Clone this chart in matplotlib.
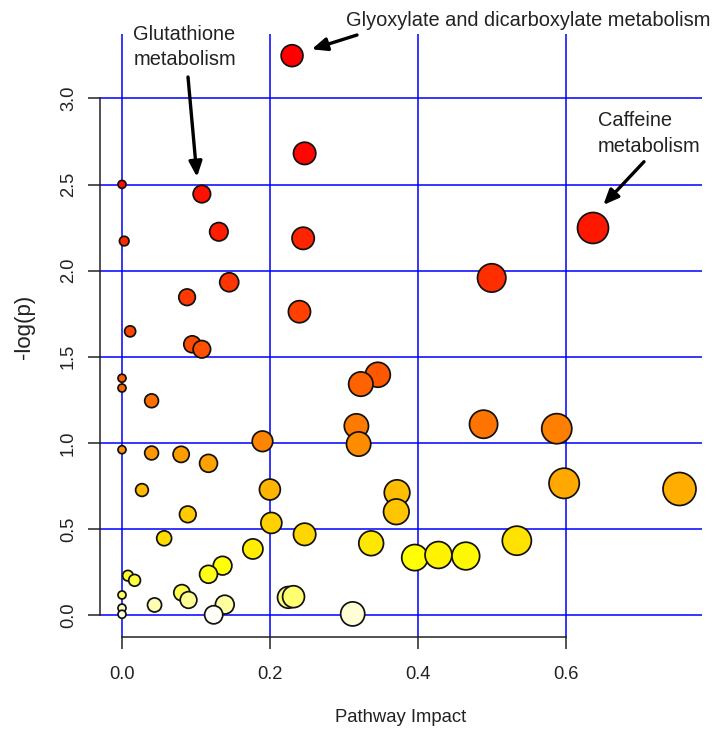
import numpy as np
import matplotlib
matplotlib.use("Agg")
import matplotlib.pyplot as plt
import colorsys

plt.rcParams['font.family'] = ['Liberation Sans', 'DejaVu Sans']

# ---- data ----
impact = [0.230, 0.247, 0.000, 0.108, 0.003, 0.131, 0.245, 0.637, 0.500, 0.088,
          0.145, 0.240, 0.011, 0.095, 0.108, 0.000, 0.000, 0.040, 0.346, 0.323,
          0.317, 0.320, 0.489, 0.588, 0.190, 0.000, 0.040, 0.080, 0.117, 0.027,
          0.200, 0.089, 0.202, 0.247, 0.057, 0.177, 0.136, 0.117, 0.008, 0.017,
          0.000, 0.081, 0.090, 0.044, 0.139, 0.000, 0.000, 0.124, 0.225, 0.232,
          0.312, 0.337, 0.372, 0.371, 0.396, 0.428, 0.465, 0.534, 0.598, 0.754]
neglogp = [3.248, 2.681, 2.501, 2.445, 2.172, 2.226, 2.188, 2.248, 1.958, 1.846,
           1.933, 1.762, 1.648, 1.573, 1.544, 1.376, 1.319, 1.245, 1.396, 1.342,
           1.099, 0.994, 1.109, 1.083, 1.010, 0.961, 0.942, 0.934, 0.882, 0.727,
           0.730, 0.586, 0.536, 0.470, 0.447, 0.385, 0.288, 0.238, 0.230, 0.203,
           0.118, 0.131, 0.089, 0.060, 0.062, 0.042, 0.006, 0.003, 0.104, 0.108,
           0.008, 0.418, 0.712, 0.601, 0.335, 0.350, 0.344, 0.433, 0.766, 0.733]

x_ticks = [0.0, 0.2, 0.4, 0.6]
y_ticks = [0.0, 0.5, 1.0, 1.5, 2.0, 2.5, 3.0]
x_label = "Pathway Impact"
y_label = "-log(p)"
label_glutathione = ["Glutathione", "metabolism"]
label_glyoxylate = "Glyoxylate and dicarboxylate metabolism"
label_caffeine = ["Caffeine", "metabolism"]


def heat_colors(n):
    """R's heat.colors(n)"""
    j = n // 4
    i = n - j
    cols = []
    for h in np.linspace(0, 1 / 6, i):
        cols.append(colorsys.hsv_to_rgb(h, 1, 1))
    if j > 0:
        for s in np.linspace(1 - 1 / (2 * j), 1 / (2 * j), j):
            cols.append(colorsys.hsv_to_rgb(1 / 6, s, 1))
    return cols


x = np.array(impact)
y = np.array(neglogp)
n = len(x)
order = np.argsort(-y)
hc = heat_colors(n)
colors = [None] * n
for rank, idx in enumerate(order):
    colors[idx] = hc[rank]

# radius in pixels grows with impact
r_px = 4 + 12.5 * np.sqrt(x / x.max())
sizes = (2 * r_px * 0.72) ** 2

W, H = 719, 731
fig = plt.figure(figsize=(W / 100, H / 100), dpi=100)
ax = fig.add_axes([100 / W, 1 - 637 / H, 602 / W, 603 / H])

px2x = lambda p: (p - 122) / 739.4
px2y = lambda p: (615.3 - p) / 172.3
ax.set_xlim(px2x(100), px2x(702))
ax.set_ylim(px2y(637), px2y(34))

for xv in x_ticks:
    ax.axvline(xv, color='#0000ff', lw=1.1, zorder=1)
for yv in y_ticks:
    ax.axhline(yv, color='#0000ff', lw=1.1, zorder=1)

ax.scatter(x, y, s=sizes, c=colors, edgecolors='#111111', linewidths=1.25,
           zorder=3, clip_on=False)

for side in ['top', 'right']:
    ax.spines[side].set_visible(False)
ax.spines['left'].set_bounds(min(y_ticks), max(y_ticks))
ax.spines['bottom'].set_bounds(min(x_ticks), max(x_ticks))
for side in ['left', 'bottom']:
    ax.spines[side].set_color('#222222')
    ax.spines[side].set_linewidth(1.1)

ax.set_xticks(x_ticks)
ax.set_xticklabels([f"{v:.1f}" for v in x_ticks])
ax.set_yticks(y_ticks)
ax.set_yticklabels([f"{v:.1f}" for v in y_ticks], rotation=90, va='center')
ax.tick_params(direction='out', length=8.6, width=1.1, color='#222222',
               labelsize=13.2, labelcolor='#222222')
ax.tick_params(axis='x', pad=12)
ax.tick_params(axis='y', pad=8)

fig.text(401 / W, 1 - 718 / H, x_label, ha='center', va='center', fontsize=13.3,
         color='#222222')
fig.text(25 / W, 1 - 327 / H, y_label, ha='center', va='center', rotation=90,
         fontsize=16, color='#222222')

# annotations
tfs = 14.4
ax.text(px2x(133.3), px2y(40), label_glutathione[0], fontsize=tfs, va='baseline',
        ha='left', clip_on=False, color='#222222')
ax.text(px2x(133.3), px2y(65), label_glutathione[1], fontsize=tfs, va='baseline',
        ha='left', clip_on=False, color='#222222')
ax.text(px2x(346), px2y(26), label_glyoxylate, fontsize=tfs, va='baseline',
        ha='left', clip_on=False, color='#222222')
ax.text(px2x(597.7), px2y(126), label_caffeine[0], fontsize=tfs, va='baseline',
        ha='left', clip_on=False, color='#222222')
ax.text(px2x(597.7), px2y(152), label_caffeine[1], fontsize=tfs, va='baseline',
        ha='left', clip_on=False, color='#222222')

arrow_kw = dict(arrowstyle='-|>,head_length=0.7,head_width=0.3', lw=2.4,
                color='black', shrinkA=0, shrinkB=0, mutation_scale=13)
ax.annotate('', xy=(px2x(197), px2y(177)), xytext=(px2x(188), px2y(77)),
            arrowprops=arrow_kw, annotation_clip=False)
ax.annotate('', xy=(px2x(311.7), px2y(49.3)), xytext=(px2x(357), px2y(35)),
            arrowprops=arrow_kw, annotation_clip=False)
ax.annotate('', xy=(px2x(603.3), px2y(205)), xytext=(px2x(644), px2y(161.7)),
            arrowprops=arrow_kw, annotation_clip=False)

fig.savefig("out.png", dpi=100)
